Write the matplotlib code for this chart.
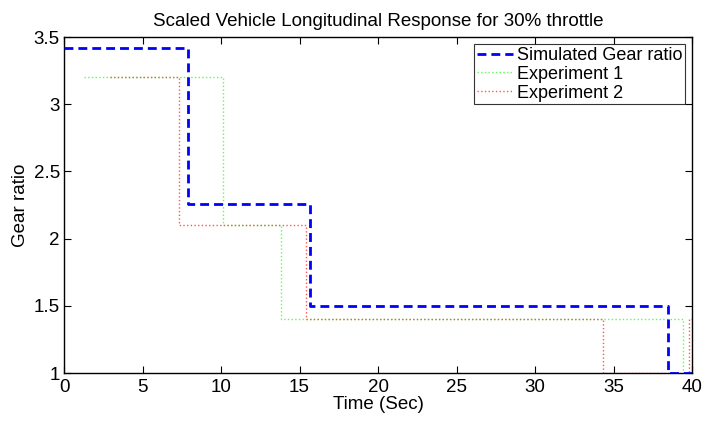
import numpy as np
import matplotlib.pyplot as plt

plt.rcParams['font.family'] = ['Liberation Sans', 'DejaVu Sans']

# Simulated gear ratio (step changes)
t_sim = [0, 7.87, 15.65, 38.45, 40]
g_sim = [3.42, 2.26, 1.5, 1.0, 1.0]

# Experiment 1
t_exp1 = [1.3, 10.13, 13.8, 39.4, 40]
g_exp1 = [3.2, 2.1, 1.4, 1.0, 1.0]

# Experiment 2
t_exp2 = [2.9, 7.32, 15.44, 34.3, 39.8, 40]
g_exp2 = [3.2, 2.1, 1.4, 1.0, 1.4, 1.4]

fig = plt.figure(figsize=(7.04, 4.21), dpi=100)
ax = fig.add_axes([0.091, 0.114, 0.892, 0.798])

ax.plot(t_sim, g_sim, drawstyle='steps-post', color='#0000ff', lw=2,
        dashes=(3.2, 1.8), label='Simulated Gear ratio', zorder=3)
ax.plot(t_exp1, g_exp1, drawstyle='steps-post', color='#55ff55', lw=1,
        linestyle=':', label='Experiment 1')
ax.plot(t_exp2, g_exp2, drawstyle='steps-post', color='#ff5555', lw=1,
        linestyle=':', label='Experiment 2')

ax.set_xlim(0, 40)
ax.set_ylim(1, 3.5)
ax.set_xticks(np.arange(0, 41, 5))
ax.set_yticks([1, 1.5, 2, 2.5, 3, 3.5])
ax.set_yticklabels(['1', '1.5', '2', '2.5', '3', '3.5'])
ax.tick_params(direction='in', top=True, right=True, labelsize=13.5, length=5)
ax.tick_params(axis='x', pad=4)
ax.tick_params(axis='y', pad=3)
for s in ax.spines.values():
    s.set_linewidth(1)

ax.set_title('Scaled Vehicle Longitudinal Response for 30% throttle', fontsize=13.5, pad=8)
ax.set_xlabel('Time (Sec)', fontsize=13.5, labelpad=0.5)
ax.set_ylabel('Gear ratio', fontsize=13.5, labelpad=3)

leg = ax.legend(loc='upper right', fontsize=13, frameon=True, fancybox=False,
                borderaxespad=0.4, handlelength=2.0, handletextpad=0.2,
                labelspacing=0.1, borderpad=0.15)
leg.get_frame().set_edgecolor('black')
leg.get_frame().set_linewidth(0.8)

fig.savefig('out.png', dpi=100)
